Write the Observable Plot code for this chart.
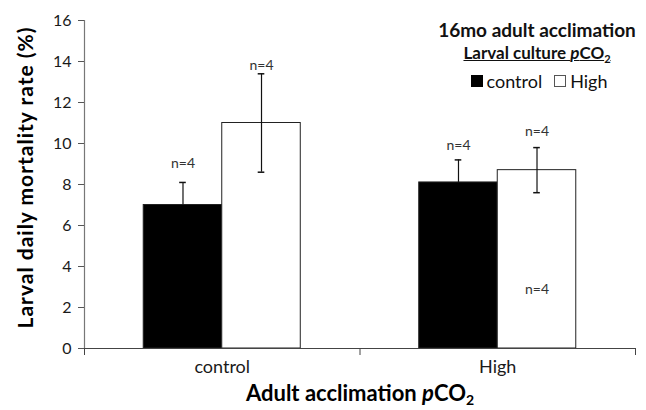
<!DOCTYPE html>
<html>
<head>
<meta charset="utf-8">
<script src="https://cdn.jsdelivr.net/npm/d3@7"></script>
<script src="https://cdn.jsdelivr.net/npm/@observablehq/plot@0.6"></script>
<style>
  body { margin: 0; background: #fff; }
  #wrap { position: relative; width: 646px; height: 410px; font-family: Lato, "Open Sans", sans-serif; color: #111; }
  #legend { position: absolute; left: 434px; top: 18px; width: 206px; text-align: center; }
  #legend .t1 { font-weight: bold; font-size: 19px; line-height: 24px; }
  #legend .t2 { font-weight: bold; font-size: 17px; line-height: 22px; text-decoration: underline; }
  #legend .t2 sub { font-size: 11px; line-height: 0; }
  #legend .row { margin-top: 6px; font-size: 18px; line-height: 22px; display: flex; justify-content: center; align-items: center; padding-left: 4px; }
  #legend .sw { display: inline-block; width: 12px; height: 12px; margin-right: 4px; box-sizing: border-box; }
</style>
</head>
<body>
<div id="wrap">
  <div id="chart"></div>
  <div id="legend"></div>
</div>
<script>
// ---- data ----
const adultGroups = ["control", "High"];          // x-axis categories (adult acclimation pCO2)
const larvalGroups = ["control", "High"];         // series (larval culture pCO2)
const meanLarvalControl = [7.0, 8.1];             // black bars
const meanLarvalHigh = [11.0, 8.7];               // white bars
const errLarvalControl = [1.1, 1.1];
const errLarvalHigh = [2.4, 1.1];
const nLarvalControl = [4, 4];
const nLarvalHigh = [4, 4];
const nLabelYControl = [9.0, 9.9];                // where the n= labels sit (data units)
const nLabelYHigh = [13.8, 10.6];
const extraLabel = {adult: "High", larval: "High", text: "n=4", y: 2.9};
const yTicks = [0, 2, 4, 6, 8, 10, 12, 14, 16];
const seriesFill = {control: "#000", High: "#fff"};
const legendTitle = "16mo adult acclimation";
const xTitle = "Adult acclimation pCO2";
const yTitle = "Larval daily mortality rate (%)";

// ---- build table ----
const barStart = [0.215, 0.5];   // offset of each series bar within a category (category width = 1)
const barWidth = 0.285;
const rows = adultGroups.flatMap((a, i) => larvalGroups.map((l, j) => {
  const mean = j === 0 ? meanLarvalControl[i] : meanLarvalHigh[i];
  const err = j === 0 ? errLarvalControl[i] : errLarvalHigh[i];
  const n = j === 0 ? nLarvalControl[i] : nLarvalHigh[i];
  const ny = j === 0 ? nLabelYControl[i] : nLabelYHigh[i];
  const x1 = i + barStart[j];
  return {adult: a, larval: l, x1, x2: x1 + barWidth, xc: x1 + barWidth / 2, mean, lo: mean - err, hi: mean + err, n: `n=${n}`, ny};
}));
const extra = rows.filter(r => r.adult === extraLabel.adult && r.larval === extraLabel.larval)
  .map(r => ({xc: r.xc, y: extraLabel.y, text: extraLabel.text}));
const openBars = rows.filter(r => seriesFill[r.larval] !== "#000");
const cap = 0.012;

const plot = Plot.plot({
  width: 646,
  height: 410,
  marginLeft: 84,
  marginRight: 11,
  marginTop: 20,
  marginBottom: 62,
  style: {fontFamily: "Lato, 'Open Sans', sans-serif", fontSize: "15px", color: "#1a1a1a", background: "#fff"},
  x: {domain: [0, adultGroups.length], axis: null},
  y: {domain: [0, 16], axis: null},
  marks: [
    Plot.rectY(rows, {x1: "x1", x2: "x2", y1: 0, y2: "mean", fill: d => seriesFill[d.larval], stroke: "#222", strokeWidth: 1}),
    Plot.ruleX(rows, {x: "xc", y1: d => seriesFill[d.larval] === "#000" ? d.mean : d.lo, y2: "hi", stroke: "#111", strokeWidth: 1.2}),
    Plot.ruleY(rows, {y: "hi", x1: d => d.xc - cap, x2: d => d.xc + cap, stroke: "#111", strokeWidth: 1.5}),
    Plot.ruleY(openBars, {y: "lo", x1: d => d.xc - cap, x2: d => d.xc + cap, stroke: "#111", strokeWidth: 1.5}),
    Plot.text(rows, {x: "xc", y: "ny", text: "n", fontSize: 14, fill: "#333"}),
    Plot.text(extra, {x: "xc", y: "y", text: "text", fontSize: 14, fill: "#333"}),
    Plot.ruleX([0], {stroke: "#777", strokeWidth: 1.2}),
    Plot.ruleY([0], {stroke: "#444", strokeWidth: 1.2}),
    Plot.axisY({ticks: yTicks, tickSize: 6, tickPadding: 7, fontSize: 16, label: null, stroke: "#555"}),
    Plot.axisX({ticks: d3.range(adultGroups.length + 1), tickSize: 7, tickFormat: () => "", label: null, stroke: "#444"}),
    Plot.axisX({ticks: adultGroups.map((_, i) => i + 0.5), tickSize: 0, tickPadding: 12, fontSize: 18,
                tickFormat: d => adultGroups[Math.floor(d)], label: null}),
    Plot.text([yTitle], {frameAnchor: "left", textAnchor: "middle", rotate: -90, dx: -58, dy: -7, fontSize: 21, fontWeight: "bold", fill: "#000"}),
    Plot.text([xTitle], {frameAnchor: "bottom", dy: 52, fontSize: 22, fontWeight: "bold", fill: "#000"})
  ]
});
document.getElementById("chart").appendChild(plot);

// letter spacing on the y title (Calibri-like width)
d3.select(plot).selectAll("text").filter(function () { return this.textContent === yTitle; })
  .attr("letter-spacing", "1px");

// italic p and subscript 2 in the x-axis title
d3.select(plot).selectAll("text").filter(function () { return this.textContent === xTitle; }).each(function () {
  const t = d3.select(this);
  t.text(null);
  t.append("tspan").text("Adult acclimation ");
  t.append("tspan").attr("font-style", "italic").text("p");
  t.append("tspan").text("CO");
  t.append("tspan").attr("dy", "0.3em").attr("font-size", "14px").text("2");
});

// legend
const lg = d3.select("#legend");
lg.append("div").attr("class", "t1").text(legendTitle);
const t2 = lg.append("div").attr("class", "t2");
t2.append("span").text("Larval culture ");
t2.append("i").text("p");
t2.append("span").text("CO");
t2.append("sub").text("2");
const row = lg.append("div").attr("class", "row");
larvalGroups.forEach((g, k) => {
  row.append("span").attr("class", "sw")
    .style("background", seriesFill[g])
    .style("border", "1px solid " + (g === "control" ? "#000" : "#555"))
    .style("margin-left", k ? "12px" : "0");
  row.append("span").text(g);
});
</script>
</body>
</html>
